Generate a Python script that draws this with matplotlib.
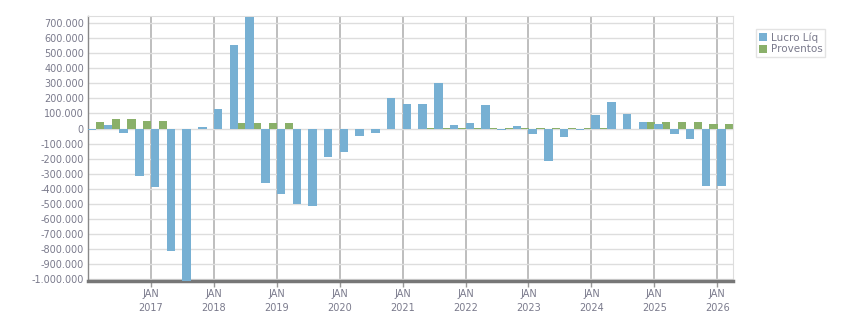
import matplotlib
matplotlib.use("Agg")
import matplotlib.pyplot as plt
from matplotlib.ticker import FuncFormatter, MultipleLocator
from matplotlib.patches import Patch

quarters = [f"{y}Q{q}" for y in range(2016, 2026) for q in range(1, 5)] + ["2026Q1"]

lucro = [-12000, 22000, -29000, -313000,
         -386000, -810000, -1010000, 10000,
         129000, 553000, 740000, -359000,
         -432000, -499000, -514000, -187000,
         -154000, -50000, -30000, 202000,
         163000, 163000, 302000, 23000,
         36000, 156000, -8000, 16000,
         -37000, -214000, -56000, -8000,
         90000, 176000, 96000, 43000,
         30000, -37000, -70000, -379000,
         -379000]

proventos = [42000, 62000, 62000, 50000,
             50000, -3000, -3000, -3000,
             -3000, 37000, 36000, 36000,
             36000, -3000, -3000, -3000,
             -3000, -3000, -3000, -3000,
             -3000, 2000, 2000, 2000,
             2000, 2000, 2000, 2000,
             2000, 2000, 2000, 2000,
             2000, -2000, -2000, 43000,
             43000, 43000, 43000, 30000,
             30000]

year_ticks = list(range(2017, 2027))
series_names = ["Lucro Líq", "Proventos"]

BLUE = "#77b0d3"
GREEN = "#8ab06a"
TXT = "#7a7a8c"

x = [int(q[:4]) + (int(q[-1]) - 1) / 4 for q in quarters]

fig = plt.figure(figsize=(8.51, 3.13), dpi=100)
ax = fig.add_axes([88 / 851, (313 - 280.7) / 313, (733 - 88) / 851, (280.7 - 15.7) / 313])

ax.bar([v + 0.125 for v in x], proventos, width=0.13, align="edge", color=GREEN, zorder=2)
ax.bar(x, lucro, width=0.135, align="edge", color=BLUE, zorder=3)

ax.set_xlim(2016, 2026.25)
ax.set_ylim(-1008000, 748000)

ax.yaxis.set_major_locator(MultipleLocator(100000))
ax.yaxis.set_major_formatter(FuncFormatter(lambda v, p: f"{int(round(v)):,}".replace(",", ".")))
ax.set_xticks(year_ticks)
ax.set_xticklabels([f"JAN\n{y}" for y in year_ticks])

ax.grid(axis="y", color="#dddddd", linewidth=1.0, zorder=0)
ax.grid(axis="x", color="#b3b3b3", linewidth=1.2, zorder=0)
ax.set_axisbelow(True)

ax.tick_params(axis="y", length=0, labelsize=7, labelcolor=TXT, pad=3)
ax.tick_params(axis="x", length=4, width=1, color="#999999", labelsize=7, labelcolor=TXT, pad=2)
for lab in ax.get_xticklabels():
    lab.set_linespacing(1.5)

ax.spines["bottom"].set_color("#777777")
ax.spines["bottom"].set_linewidth(2.5)
ax.spines["left"].set_color("#888888")
ax.spines["left"].set_linewidth(1.0)
ax.spines["top"].set_color("#dddddd")
ax.spines["right"].set_color("#dddddd")

handles = [Patch(facecolor=BLUE, edgecolor="none"), Patch(facecolor=GREEN, edgecolor="none")]
leg = fig.legend(handles, series_names, loc="upper left", bbox_to_anchor=(756 / 851, 1 - 29 / 313),
                 fontsize=7.5, frameon=True, fancybox=False, handlelength=0.8, handleheight=0.8,
                 handletextpad=0.3, borderpad=0.3, labelspacing=0.15, borderaxespad=0)
leg.get_frame().set_edgecolor("#dddddd")
leg.get_frame().set_linewidth(1.0)
for t in leg.get_texts():
    t.set_color(TXT)

fig.savefig("out.png", dpi=100)
